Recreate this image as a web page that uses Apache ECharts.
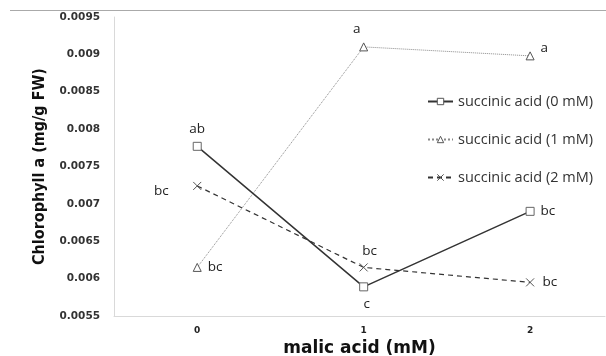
<!DOCTYPE html>
<html><head><meta charset="utf-8">
<script src="https://cdn.jsdelivr.net/npm/echarts@6/dist/echarts.min.js"></script>
<style>html,body{margin:0;padding:0;background:#fff}#c{width:606px;height:356px}</style>
</head><body><div id="c"></div>
<script>
const categories = [0, 1, 2];
const seriesNames = ['succinic acid (0 mM)', 'succinic acid (1 mM)', 'succinic acid (2 mM)'];
const s0 = [0.00777, 0.00589, 0.00690];
const s1 = [0.00615, 0.00910, 0.00898];
const s2 = [0.00724, 0.00615, 0.00595];
const letters0 = ['ab', 'c', 'bc'];
const letters1 = ['bc', 'a', 'a'];
const letters2 = ['bc', 'bc', 'bc'];
const yTicks = ['0.0055','0.006','0.0065','0.007','0.0075','0.008','0.0085','0.009','0.0095'];

const FONT = 'Open Sans';
const chart = echarts.init(document.getElementById('c'), null, {renderer: 'canvas'});
const crossPath = 'path://M0,0L10,10M10,0L0,10';

function mk(vals, letters, positions, offsets) {
  return vals.map((v, i) => ({
    value: [categories[i], v],
    label: {show: true, formatter: letters[i], position: positions[i], offset: offsets[i] || [0,0],
      fontFamily: FONT, fontSize: 13.5, color: '#222', distance: 4}
  }));
}

chart.setOption({
  animation: false,
  grid: {left: 114, right: 1, top: 17, bottom: 40, outerBoundsMode: 'none', containLabel: false},
  legend: {
    orient: 'vertical', left: 422, top: 89, itemGap: 23, itemWidth: 25, itemHeight: 8,
    textStyle: {fontFamily: FONT, fontSize: 14.5, color: '#333'},
    itemStyle: {color: '#fff', borderColor: '#555', borderWidth: 1},
    data: seriesNames
  },
  xAxis: {
    type: 'value', min: -0.5, max: 2.45, interval: 0.5,
    name: 'malic acid (mM)', nameLocation: 'middle', nameGap: 22,
    nameTextStyle: {fontFamily: 'DejaVu Sans', fontWeight: 'bold', fontSize: 17, color: '#111'},
    axisLine: {onZero: false, lineStyle: {color: '#d9d9d9', width: 1}},
    axisTick: {show: false}, splitLine: {show: false},
    axisLabel: {fontFamily: 'DejaVu Sans', fontWeight: 'bold', fontSize: 9, color: '#222', margin: 10,
      formatter: v => categories.includes(v) ? String(v) : ''}
  },
  yAxis: {
    type: 'value', min: 0.0055, max: 0.0095, interval: 0.0005,
    name: 'Chlorophyll a (mg/g FW)', nameLocation: 'middle', nameGap: 66,
    nameTextStyle: {fontFamily: 'DejaVu Sans Condensed', fontWeight: 'bold', fontSize: 16, color: '#111'},
    axisLine: {show: true, onZero: false, lineStyle: {color: '#d9d9d9', width: 1}},
    axisTick: {show: false}, splitLine: {show: false},
    axisLabel: {fontFamily: 'DejaVu Sans', fontWeight: 'bold', fontSize: 10.5, color: '#333', margin: 14,
      formatter: v => yTicks.find(t => Math.abs(parseFloat(t) - v) < 1e-9) || ''}
  },
  series: [
    {name: seriesNames[0], type: 'line', symbol: 'rect', symbolSize: 8,
     lineStyle: {color: '#333', width: 1.5, type: 'solid'},
     itemStyle: {color: '#fff', borderColor: '#666', borderWidth: 1},
     data: mk(s0, letters0, ['top', 'bottom', 'right'], [[0,-2],[3,2],[2,0]]), z: 3},
    {name: seriesNames[1], type: 'line', symbol: 'triangle', symbolSize: 8,
     lineStyle: {color: '#888', width: 1, type: 'dotted'},
     itemStyle: {color: '#fff', borderColor: '#555', borderWidth: 1},
     data: mk(s1, letters1, ['right', 'top', 'right'], [[2,0],[-7,-2],[2,-8]]), z: 2},
    {name: seriesNames[2], type: 'line', symbol: crossPath, symbolSize: 8,
     lineStyle: {color: '#333', width: 1.2, type: [5, 4]},
     itemStyle: {color: 'none', borderColor: '#555', borderWidth: 1},
     data: mk(s2, letters2, ['left', 'top', 'right'], [[-18,5],[6,1],[2,0]]), z: 2}
  ],
  graphic: [{type: 'line', shape: {x1: 10, y1: 10.5, x2: 606, y2: 10.5}, style: {stroke: '#aaa', lineWidth: 1}}]
});
</script></body></html>
